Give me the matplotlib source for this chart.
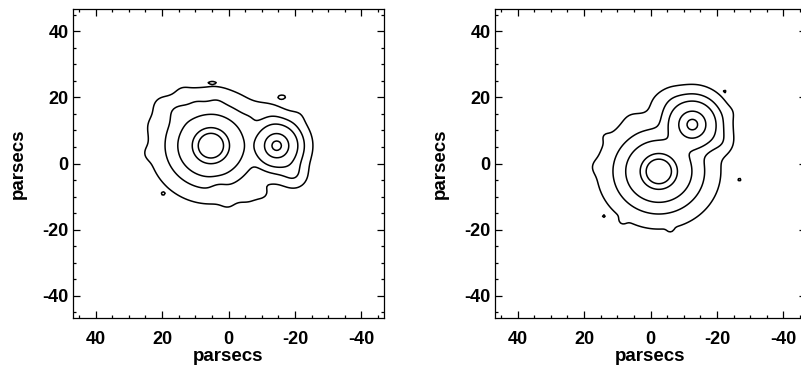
import numpy as np
import matplotlib
matplotlib.use("Agg")
import matplotlib.pyplot as plt
from matplotlib.ticker import MultipleLocator, FixedLocator

plt.rcParams['font.family'] = ['Liberation Sans', 'DejaVu Sans']
plt.rcParams['font.weight'] = 'bold'
plt.rcParams['axes.unicode_minus'] = False

# ---------------- data ----------------
levels = [1.0, 2.5, 4.26, 7.05, 8.67]
tick_values = [40, 20, 0, -20, -40]
axis_label = "parsecs"

# left panel: two sources (halo + core) and small knots / islands
left_src_x = [5.3, -14.5]
left_src_y = [5.4, 5.4]
left_src_amp = [7.5, 9.0]
left_src_sx = [9.3, 5.2]
left_src_sy = [8.8, 5.2]
left_core_x = [5.3, -14.5]
left_core_y = [5.4, 5.4]
left_core_amp = [3.5, 0.0]
left_core_s = [3.26, 1.0]
left_knot_x = [24.0, 20.5, 23.0, 14.0, 4.9, -16.2, -21.5, -20.0, 19.8, -6.0, -11.0, -12.0,
               15.5, 10.0, 3.5, 3.0, 0.0, -7.0]
left_knot_y = [3.0, 18.0, 12.0, 22.0, 24.6, 20.2, 15.0, -4.0, -9.2, -11.0, -9.5, 16.0,
               16.0, 19.0, 19.5, -7.5, -13.0, 14.0]
left_knot_amp = [0.35, 0.6, 0.3, 0.35, 0.45, 1.0, 0.35, 1.6, 0.55, 0.4, 0.6, 0.6,
                 0.8, 0.35, 0.35, -0.6, 0.3, 0.35]
left_knot_sx = [1.6, 2.5, 2.5, 2.0, 1.3, 1.4, 2.0, 2.8, 0.8, 2.5, 2.5, 3.0,
                2.5, 2.0, 2.0, 1.8, 2.0, 2.0]
left_knot_sy = [1.6, 2.5, 2.5, 2.0, 0.45, 0.8, 2.0, 2.8, 0.7, 2.5, 2.5, 3.0,
                2.5, 2.0, 2.0, 1.8, 2.0, 2.0]

# right panel
right_src_x = [-2.5, -12.6]
right_src_y = [-2.4, 11.8]
right_src_amp = [7.5, 9.0]
right_src_sx = [9.3, 5.8]
right_src_sy = [8.7, 5.8]
right_core_x = [-2.5, -12.6]
right_core_y = [-2.4, 11.8]
right_core_amp = [3.5, 0.0]
right_core_s = [3.26, 1.0]
right_knot_x = [14.1, -22.4, -26.8, -24.0, 8.5, -6.0, 16.5, 14.0, -2.0, -6.0, 6.0, -22.0]
right_knot_y = [-16.0, 21.9, -4.9, 15.5, -17.5, -20.0, -1.0, 8.5, 19.0, 21.0, 14.0, 6.0]
right_knot_amp = [0.7, 0.7, 1.0, 0.25, 0.4, 0.35, 0.3, 0.3, 0.5, 0.35, 0.3, 0.8]
right_knot_sx = [0.6, 0.5, 0.6, 1.5, 1.0, 0.8, 1.8, 1.5, 3.0, 2.5, 2.5, 2.5]
right_knot_sy = [0.6, 0.5, 0.6, 1.5, 1.0, 0.8, 1.8, 1.5, 3.0, 2.5, 2.5, 2.5]

# ---------------- field construction ----------------
grid = np.arange(-47, 47.01, 0.5)
X, Y = np.meshgrid(grid, grid)


def gauss(x0, y0, amp, sx, sy):
    return amp * np.exp(-((X - x0) ** 2) / (2 * sx ** 2) - ((Y - y0) ** 2) / (2 * sy ** 2))


def build(sx_, sy_, samp, ssx, ssy, cx, cy, camp, cs, kx, ky, kamp, ksx, ksy, p=3.0):
    total = np.zeros_like(X)
    for i in range(len(sx_)):
        s = gauss(sx_[i], sy_[i], samp[i], ssx[i], ssy[i])
        if camp[i] > 0:
            s = s + gauss(cx[i], cy[i], camp[i], cs[i], cs[i])
        total += s ** p
    F = total ** (1.0 / p)
    for i in range(len(kx)):
        F = F + gauss(kx[i], ky[i], kamp[i], ksx[i], ksy[i])
    return F


F_left = build(left_src_x, left_src_y, left_src_amp, left_src_sx, left_src_sy,
               left_core_x, left_core_y, left_core_amp, left_core_s,
               left_knot_x, left_knot_y, left_knot_amp, left_knot_sx, left_knot_sy)
F_right = build(right_src_x, right_src_y, right_src_amp, right_src_sx, right_src_sy,
                right_core_x, right_core_y, right_core_amp, right_core_s,
                right_knot_x, right_knot_y, right_knot_amp, right_knot_sx, right_knot_sy)

# ---------------- figure ----------------
W, H = 801, 369
fig = plt.figure(figsize=(W / 100, H / 100), dpi=100)
ax1 = fig.add_axes([73 / W, 51 / H, 311 / W, 309 / H])
ax2 = fig.add_axes([495 / W, 51 / H, 311 / W, 309 / H])

for ax, F in ((ax1, F_left), (ax2, F_right)):
    ax.contour(X, Y, F, levels=levels, colors='black', linewidths=1.1)
    ax.set_xlim(46.8, -46.8)
    ax.set_ylim(-46.8, 46.8)
    ax.xaxis.set_major_locator(FixedLocator(tick_values))
    ax.yaxis.set_major_locator(FixedLocator(tick_values))
    ax.xaxis.set_minor_locator(MultipleLocator(5))
    ax.yaxis.set_minor_locator(MultipleLocator(5))
    ax.tick_params(which='both', direction='in', top=True, right=True, width=0.9,
                   labelsize=13)
    ax.tick_params(which='major', length=5)
    ax.tick_params(which='minor', length=2.5)
    ax.tick_params(axis='x', pad=9)
    ax.tick_params(axis='y', pad=3)
    for lab in ax.get_xticklabels() + ax.get_yticklabels():
        lab.set_fontweight('bold')
    for sp in ax.spines.values():
        sp.set_linewidth(0.9)
    ax.set_xlabel(axis_label, fontsize=13.5, fontweight='bold')
    ax.set_ylabel(axis_label, fontsize=13.5, fontweight='bold')
    ax.xaxis.set_label_coords(0.5, -0.096)
    ax.yaxis.set_label_coords(-0.148, 0.5)

fig.savefig('out.png', dpi=100)
